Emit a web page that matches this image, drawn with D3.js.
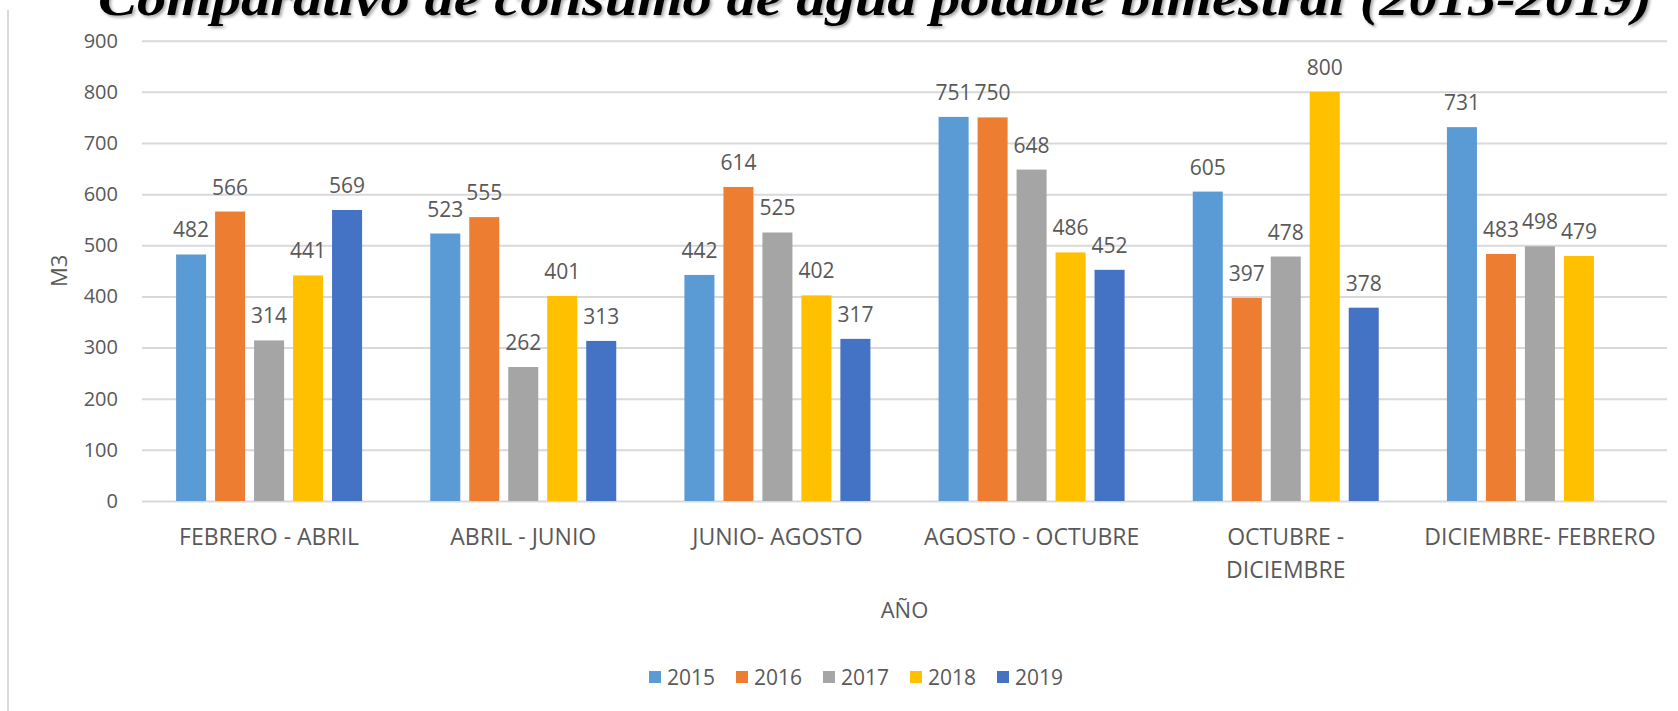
<!DOCTYPE html>
<html>
<head>
<meta charset="utf-8">
<title>Consumo de agua potable bimestral</title>
<script src="https://d3js.org/d3.v7.min.js"></script>
<style>
body { margin: 0; background: #fff; }
svg { display: block; }
</style>
</head>
<body>
<script type="text/javascript">

// data
var categories = ["FEBRERO - ABRIL", "ABRIL - JUNIO", "JUNIO- AGOSTO",
  "AGOSTO - OCTUBRE", "OCTUBRE - DICIEMBRE", "DICIEMBRE- FEBRERO"];
var tickLines = [["FEBRERO - ABRIL"], ["ABRIL - JUNIO"], ["JUNIO- AGOSTO"],
  ["AGOSTO - OCTUBRE"], ["OCTUBRE -", "DICIEMBRE"], ["DICIEMBRE- FEBRERO"]];
var years = ["2015", "2016", "2017", "2018", "2019"];
var v2015 = [482, 523, 442, 751, 605, 731];
var v2016 = [566, 555, 614, 750, 397, 483];
var v2017 = [314, 262, 525, 648, 478, 498];
var v2018 = [441, 401, 402, 486, 800, 479];
var v2019 = [569, 313, 317, 452, 378, null];
var yTicks = [0, 100, 200, 300, 400, 500, 600, 700, 800, 900];
var colors = ["#5B9BD5", "#ED7D31", "#A5A5A5", "#FFC000", "#4472C4"];

var title = "Comparativo de consumo de agua potable bimestral (2015-2019)";

var width = 1678;
var height = 711;
var plotLeft = 142, plotRight = 1667, plotTop = 40.7, plotBottom = 501;
var textColor = "#595959";
var font = "'Open Sans', 'Noto Sans', sans-serif";

var series = [v2015, v2016, v2017, v2018, v2019];

var rows = [];
categories.forEach(function(c, i){
  years.forEach(function(yr, j){
    if(series[j][i] != null){
      rows.push({cat: c, year: yr, value: series[j][i], color: colors[j]});
    }
  });
});

var svg = d3.select("body")
  .append("svg")
  .attr("width", width)
  .attr("height", height);

svg.append("rect")
  .attr("width", width)
  .attr("height", height)
  .attr("fill", "#fff");

// chart frame (only left edge is visible)
svg.append("line")
  .attr("x1", 8).attr("x2", 8)
  .attr("y1", 10).attr("y2", height)
  .attr("stroke", "#D9D9D9")
  .attr("stroke-width", 2);

var x0 = d3.scaleBand()
  .domain(categories)
  .range([plotLeft, plotRight]);

var groupW = 186;
var x1 = d3.scaleBand()
  .domain(years)
  .range([(x0.bandwidth() - groupW) / 2, (x0.bandwidth() + groupW) / 2])
  .paddingInner(0.23);

var y = d3.scaleLinear()
  .domain([0, 900])
  .range([plotBottom, plotTop]);

// gridlines
var grid = svg.append("g")
  .attr("transform", "translate(" + plotLeft + ",0)")
  .call(d3.axisLeft(y).tickValues(yTicks).tickSize(-(plotRight - plotLeft)).tickFormat(""));
grid.select(".domain").remove();
grid.selectAll("line")
  .attr("stroke", "#D9D9D9")
  .attr("stroke-width", 2);

// y axis labels
var yAxis = svg.append("g")
  .attr("transform", "translate(" + plotLeft + ",0)")
  .call(d3.axisLeft(y).tickValues(yTicks).tickSize(0).tickPadding(24));
yAxis.select(".domain").remove();
yAxis.selectAll("text")
  .attr("fill", textColor)
  .style("font-family", font)
  .style("font-size", "20px");

// bars
var bars = svg.append("g");
bars.selectAll("rect")
  .data(rows)
  .enter()
  .append("rect")
  .attr("x", function(d){ return x0(d.cat) + x1(d.year); })
  .attr("y", function(d){ return y(d.value); })
  .attr("width", x1.bandwidth())
  .attr("height", function(d){ return y(0) - y(d.value); })
  .attr("fill", function(d){ return d.color; });

// value labels
svg.append("g").selectAll("text")
  .data(rows)
  .enter()
  .append("text")
  .attr("x", function(d){ return x0(d.cat) + x1(d.year) + x1.bandwidth() / 2; })
  .attr("y", function(d){ return y(d.value) - 17; })
  .attr("text-anchor", "middle")
  .attr("fill", textColor)
  .style("font-family", font)
  .style("font-size", "21px")
  .text(function(d){ return d.value; });

// x axis labels
var xAxis = svg.append("g")
  .attr("transform", "translate(0," + plotBottom + ")")
  .call(d3.axisBottom(x0).tickSize(0));
xAxis.select(".domain").remove();
xAxis.selectAll("text").each(function(d, i){
  var t = d3.select(this);
  t.text(null)
    .attr("y", 0)
    .attr("dy", null)
    .attr("fill", textColor)
    .style("font-family", font)
    .style("font-size", "23px");
  tickLines[i].forEach(function(line, k){
    t.append("tspan")
      .attr("x", 0)
      .attr("y", 44 + k * 33)
      .text(line);
  });
});

// axis titles
svg.append("text")
  .attr("x", (plotLeft + plotRight) / 2)
  .attr("y", 618)
  .attr("text-anchor", "middle")
  .attr("fill", textColor)
  .style("font-family", font)
  .style("font-size", "22px")
  .text("AÑO");

svg.append("text")
  .attr("transform", "translate(67," + (plotTop + plotBottom) / 2 + ") rotate(-90)")
  .attr("text-anchor", "middle")
  .attr("fill", textColor)
  .style("font-family", font)
  .style("font-size", "22px")
  .text("M3");

// legend
var legend = svg.append("g")
  .selectAll("g")
  .data(years)
  .enter()
  .append("g")
  .attr("transform", function(d, i){ return "translate(" + (649 + i * 87) + ",671)"; });

legend.append("rect")
  .attr("width", 12)
  .attr("height", 12)
  .attr("fill", function(d, i){ return colors[i]; });

legend.append("text")
  .attr("x", 18)
  .attr("y", 14)
  .attr("fill", textColor)
  .style("font-family", font)
  .style("font-size", "21px")
  .text(function(d){ return d; });

// title, clipped at the top like the source
var defs = svg.append("defs");
var shadow = defs.append("filter")
  .attr("id", "shadow")
  .attr("x", "-5%").attr("y", "-50%")
  .attr("width", "110%").attr("height", "200%");
shadow.append("feDropShadow")
  .attr("dx", 2).attr("dy", 2)
  .attr("stdDeviation", 1.5)
  .attr("flood-color", "#000")
  .attr("flood-opacity", 0.35);

svg.append("text")
  .attr("x", 98)
  .attr("y", 15)
  .attr("textLength", 1554)
  .attr("lengthAdjust", "spacingAndGlyphs")
  .attr("filter", "url(#shadow)")
  .style("font-family", "'Liberation Serif', 'DejaVu Serif', serif")
  .style("font-weight", "bold")
  .style("font-style", "italic")
  .style("font-size", "50px")
  .attr("fill", "#000")
  .text(title);

</script>
</body>
</html>
